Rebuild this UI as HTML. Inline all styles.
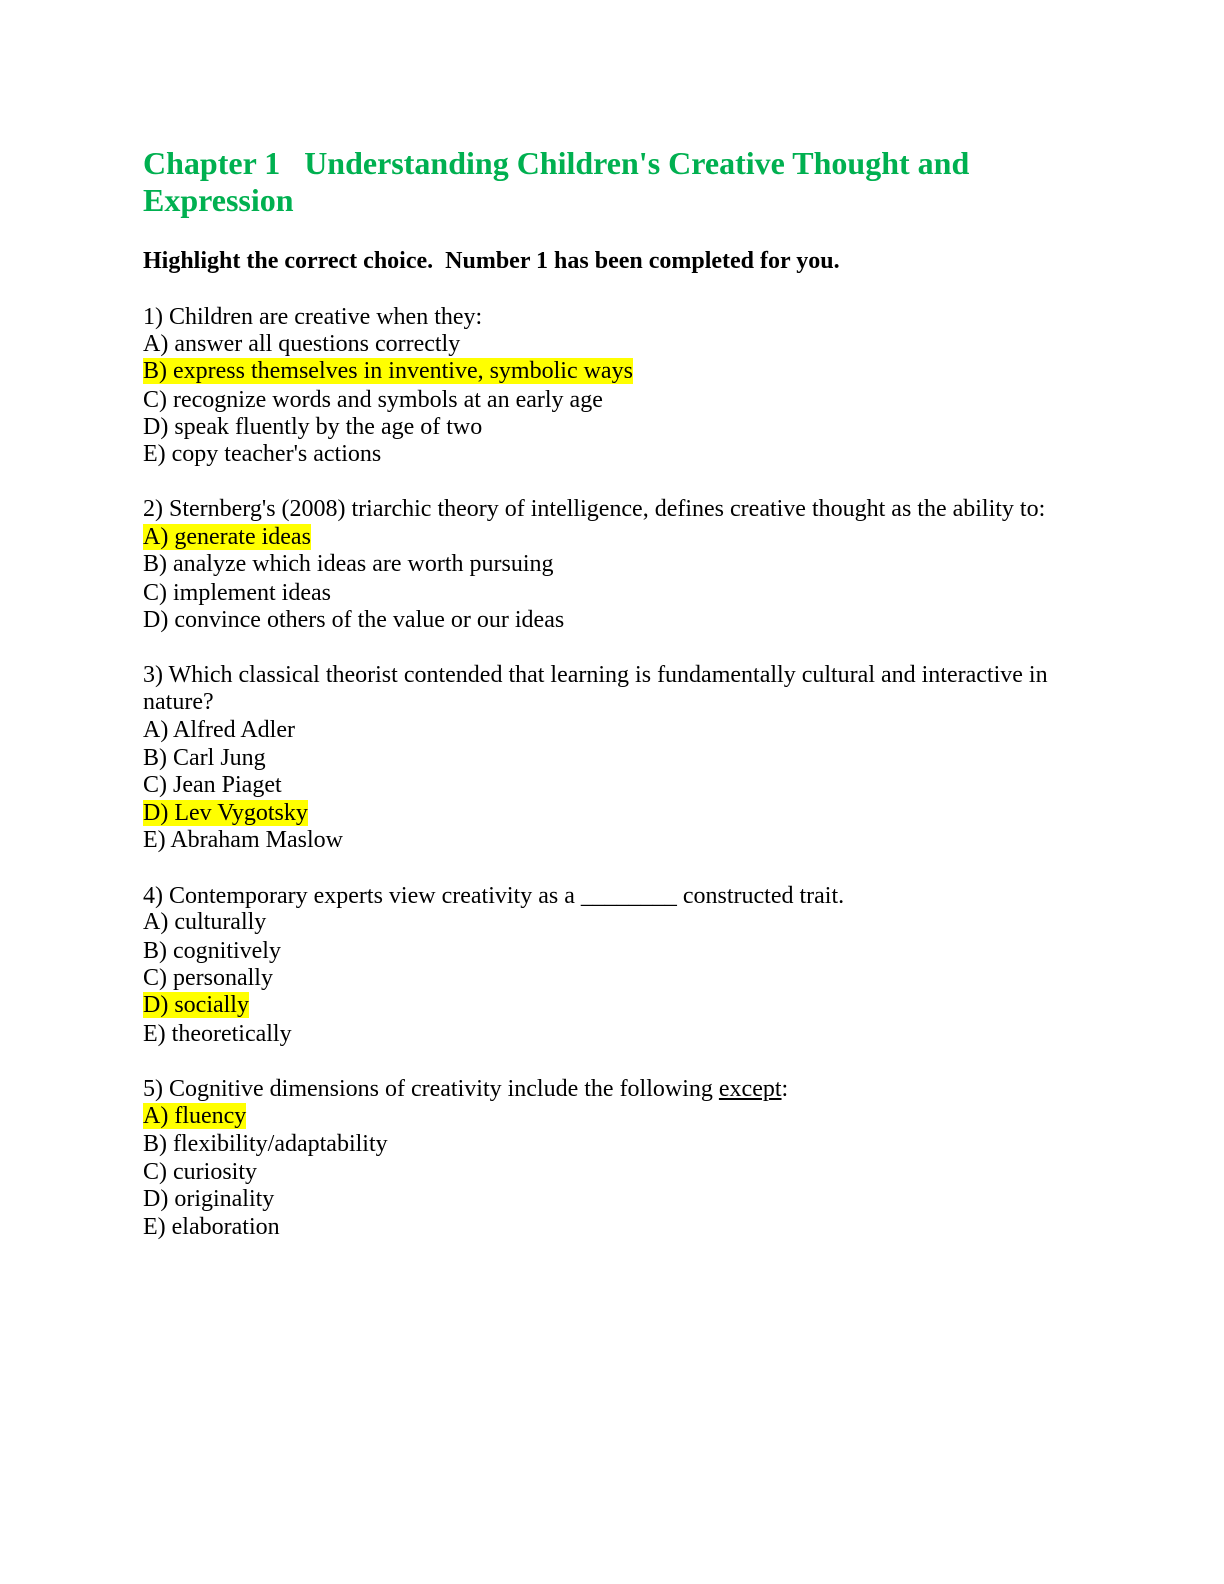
<!DOCTYPE html>
<html><head><meta charset="utf-8"><style>
body{margin:0;background:#fff;}
.p{position:relative;width:1224px;height:1584px;font-family:"Liberation Serif",serif;color:#000;}
.l{position:absolute;left:143px;font-size:24px;line-height:27px;white-space:pre;}
.t{position:absolute;left:143px;font-size:32px;line-height:37px;font-weight:bold;color:#00b050;white-space:pre;}
.h{background:#ffff00;}
b{font-weight:bold;}
</style></head><body><div class="p">
<div class="t" style="top:145px">Chapter 1   Understanding Children's Creative Thought and</div>
<div class="t" style="top:182px">Expression</div>
<div class="l" style="top:248px"><b>Highlight the correct choice.  Number 1 has been completed for you.</b></div>

<div class="l" style="top:304px">1) Children are creative when they:</div>
<div class="l" style="top:331px">A) answer all questions correctly</div>
<div class="l" style="top:358px"><span class="h">B) express themselves in inventive, symbolic ways</span></div>
<div class="l" style="top:387px">C) recognize words and symbols at an early age</div>
<div class="l" style="top:414px">D) speak fluently by the age of two</div>
<div class="l" style="top:441px">E) copy teacher's actions</div>

<div class="l" style="top:496px">2) Sternberg's (2008) triarchic theory of intelligence, defines creative thought as the ability to:</div>
<div class="l" style="top:524px"><span class="h">A) generate ideas</span></div>
<div class="l" style="top:551px">B) analyze which ideas are worth pursuing</div>
<div class="l" style="top:580px">C) implement ideas</div>
<div class="l" style="top:607px">D) convince others of the value or our ideas</div>

<div class="l" style="top:662px">3) Which classical theorist contended that learning is fundamentally cultural and interactive in</div>
<div class="l" style="top:689px">nature?</div>
<div class="l" style="top:717px">A) Alfred Adler</div>
<div class="l" style="top:745px">B) Carl Jung</div>
<div class="l" style="top:772px">C) Jean Piaget</div>
<div class="l" style="top:800px"><span class="h">D) Lev Vygotsky</span></div>
<div class="l" style="top:827px">E) Abraham Maslow</div>

<div class="l" style="top:883px">4) Contemporary experts view creativity as a ________ constructed trait.</div>
<div class="l" style="top:909px">A) culturally</div>
<div class="l" style="top:938px">B) cognitively</div>
<div class="l" style="top:965px">C) personally</div>
<div class="l" style="top:992px"><span class="h">D) socially</span></div>
<div class="l" style="top:1021px">E) theoretically</div>

<div class="l" style="top:1076px">5) Cognitive dimensions of creativity include the following <u>except</u>:</div>
<div class="l" style="top:1103px"><span class="h">A) fluency</span></div>
<div class="l" style="top:1131px">B) flexibility/adaptability</div>
<div class="l" style="top:1159px">C) curiosity</div>
<div class="l" style="top:1186px">D) originality</div>
<div class="l" style="top:1214px">E) elaboration</div>
</div></body></html>
